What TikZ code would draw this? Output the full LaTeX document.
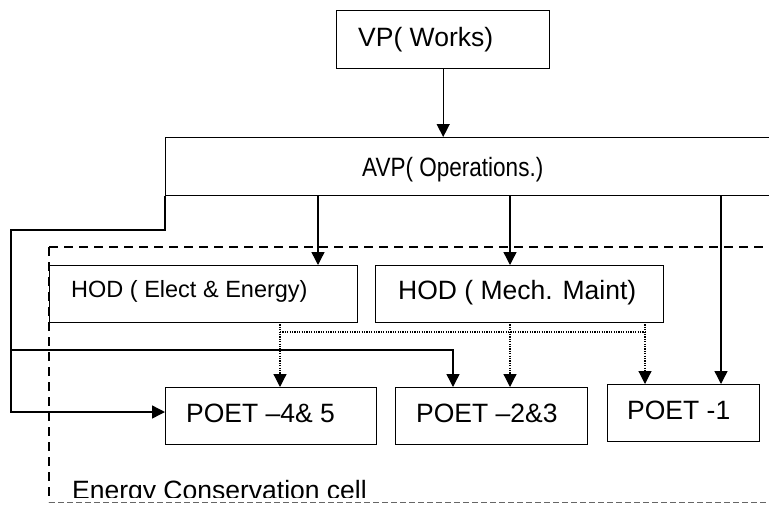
\documentclass[tikz,border=0pt]{standalone}
\usepackage{fontspec}
\setmainfont{Liberation Sans}
\usetikzlibrary{arrows.meta,calc}
\begin{document}
\begin{tikzpicture}[x=1pt,y=-1pt,
  box/.style={draw,line width=1.4pt,rectangle,inner sep=0pt,anchor=north west},
  lbl/.style={anchor=base west,inner sep=0pt,font=\fontsize{26.5}{30}\selectfont},
  conn/.style={line width=1.4pt,-{Triangle[length=13pt,width=13pt]}},
  plain/.style={line width=1.4pt},
  dotconn/.style={line width=1.2pt,dash pattern=on 1.2pt off 1.2pt,-{Triangle[length=13pt,width=13pt]}},
  dotline/.style={line width=1.2pt,dash pattern=on 1.2pt off 1.2pt},
  cellline/.style={line width=1.3pt,dash pattern=on 9pt off 6pt},
  cellbottom/.style={line width=1pt,draw=black!60,dash pattern=on 6pt off 3pt}
]
\useasboundingbox (0,0) rectangle (769,504);
\clip (0,0) rectangle (769,504);
\fill[white] (0,0) rectangle (769,504);

% dashed cell frame
\coordinate (cellTL) at (49,247);
\coordinate (cellBL) at (49,502);
\draw[cellline] (cellTL) -- (800,247);
\draw[cellline] (cellTL) -- (cellBL);
\draw[cellbottom] (cellBL) -- (800,502);

% boxes
\node[box,minimum width=213pt,minimum height=58pt] (vp) at (336,10) {};
\node[box,minimum width=640pt,minimum height=58pt] (avp) at (165,137) {};
\node[box,minimum width=308pt,minimum height=57pt] (hode) at (49,265) {};
\node[box,minimum width=288pt,minimum height=57pt] (hodm) at (375,265) {};
\node[box,minimum width=211pt,minimum height=57pt] (p45) at (165,387) {};
\node[box,minimum width=192pt,minimum height=57pt] (p23) at (395,387) {};
\node[box,minimum width=152pt,minimum height=57pt] (p1) at (607,384) {};

% labels
\node[lbl] (tvp) at (358,46) {VP( Works)};
\node[lbl] (tavp) at (362,176) {\scalebox{0.85}[1]{AVP( Operations.)}};
\node[lbl,font=\fontsize{23.5}{27}\selectfont] (thode) at (71,297) {HOD ( Elect \& Energy)};
\node[lbl] (thodm) at (398,299) {HOD ( Mech. Maint)};
\node[lbl] (tp45) at (186,422) {POET –4\& 5};
\node[lbl] (tp23) at (416,422) {POET –2\&3};
\node[lbl] (tp1) at (627,419) {POET -1};
\begin{scope}
\clip (0,0) rectangle (769,497);
\node[lbl] (tcell) at (72,499) {Energy Conservation cell};
\end{scope}

% solid connectors
\draw[conn] (vp.south) -- (vp.south |- avp.north);
\coordinate (hodeIn) at (318,265);
\coordinate (hodmIn) at (510,265);
\coordinate (p1In) at (721,384);
\draw[conn] (hodeIn |- avp.south) -- (hodeIn);
\draw[conn] (hodmIn |- avp.south) -- (hodmIn);
\draw[conn] (p1In |- avp.south) -- (p1In);
\coordinate (p45In) at (165,412);
\coordinate (loopA) at (165,230);
\coordinate (loopB) at (11,412);
\draw[conn] (avp.south west) -- (loopA) -| (loopB) -- (p45In);
\coordinate (p23In) at (453,387);
\coordinate (barL) at (11,350);
\draw[conn] (barL) -| (p23In);

% dotted connectors
\coordinate (dE) at (280,322);
\coordinate (dM) at (510,322);
\coordinate (dR) at (645,322);
\coordinate (dEl) at (280,332);
\coordinate (dRl) at (645,332);
\draw[dotline] (dEl) -- (dRl);
\draw[dotconn] (dE) -- (dE |- p45.north);
\draw[dotconn] (dM) -- (dM |- p23.north);
\draw[dotconn] (dR) -- (dR |- p1.north);
\end{tikzpicture}
\end{document}
